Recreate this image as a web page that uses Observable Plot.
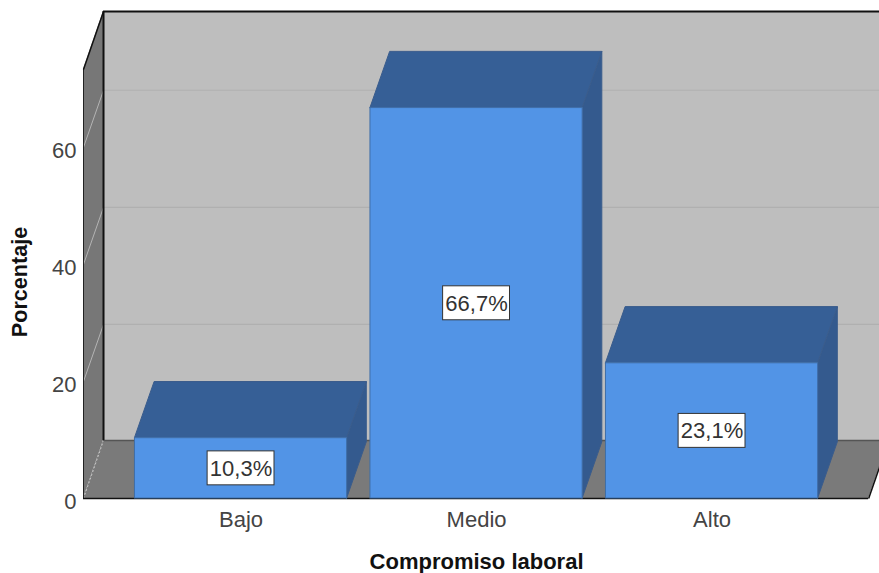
<!DOCTYPE html>
<html>
<head>
<meta charset="utf-8">
<script src="https://cdn.jsdelivr.net/npm/d3@7"></script>
<script src="https://cdn.jsdelivr.net/npm/@observablehq/plot@0.6"></script>
<style>
html,body{margin:0;padding:0;background:#fff;overflow:hidden}
svg{display:block}
</style>
</head>
<body>
<div id="chart"></div>
<script>
const categories = ["Bajo", "Medio", "Alto"];
const values = [10.3, 66.7, 23.1];
const valueLabels = ["10,3%", "66,7%", "23,1%"];
const yTicks = [0, 20, 40, 60];
const xTitle = "Compromiso laboral";
const yTitle = "Porcentaje";

// 3D box projection, in data units
const wallDepthX = 0.085, barDepthX = 0.0835, wallDepthY = 9.9, barDepthY = 9.6, gridDepthY = 9.75, halfBar = 0.4505;
const wallTop = 73.3, floorL = -0.669, floorR = 2.665, xMax = 2.711;
const boxW = 0.142, boxH = 2.9;

const quad = (id, a1, a2, b1, b2) => [
  {id, x1: a1[0], y1: a1[1], x2: a2[0], y2: a2[1]},
  {id, x1: b1[0], y1: b1[1], x2: b2[0], y2: b2[1]}
];
const bars = categories.map((c, i) => ({i, c, v: values[i], label: valueLabels[i], l: i - halfBar, r: i + halfBar}));
const topFaces = bars.flatMap(b => quad("t" + b.i, [b.l, b.v], [b.r, b.v], [b.l + barDepthX, b.v + barDepthY], [b.r + barDepthX, b.v + barDepthY]));
const sideFaces = bars.flatMap(b => quad("s" + b.i, [b.r, 0], [b.r, b.v], [b.r + barDepthX, barDepthY], [b.r + barDepthX, b.v + barDepthY]));
const leftWall = quad("left", [floorL, 0], [floorL, wallTop], [floorL + wallDepthX, wallDepthY], [floorL + wallDepthX, wallTop + wallDepthY]);
const floor = quad("floor", [floorL, 0], [floorR, 0], [floorL + wallDepthX, wallDepthY], [floorR + wallDepthX, wallDepthY]);
const gridTicks = yTicks.filter(t => t > 0);
const edge = "#3a5c8c";

const plot = Plot.plot({
  width: 879, height: 573,
  marginLeft: 83, marginRight: 0, marginTop: 11, marginBottom: 75,
  style: {fontFamily: "'Liberation Sans', Arial, sans-serif", background: "#fff"},
  x: {domain: [floorL, xMax], axis: null},
  y: {domain: [0, wallTop + wallDepthY], axis: null},
  marks: [
    // back wall
    Plot.rect([0], {x1: floorL + wallDepthX, x2: floorR + wallDepthX, y1: wallDepthY, y2: wallTop + wallDepthY, fill: "#bebebe"}),
    Plot.ruleY(gridTicks, {y: d => d + gridDepthY, x1: floorL + wallDepthX, x2: floorR + wallDepthX, stroke: "#b0b0b0", strokeWidth: 1.2}),
    // left wall and floor
    Plot.area(leftWall, {x1: "x1", y1: "y1", x2: "x2", y2: "y2", z: "id", fill: "#777777"}),
    Plot.area(floor, {x1: "x1", y1: "y1", x2: "x2", y2: "y2", z: "id", fill: "#7a7a7a"}),
    Plot.link(gridTicks, {x1: floorL, y1: d => d, x2: floorL + wallDepthX, y2: d => d + gridDepthY, stroke: "#b4b4b4", strokeWidth: 1}),
    Plot.link([0], {x1: floorL, y1: 0, x2: floorL + wallDepthX, y2: wallDepthY, stroke: "#c8c8c8", strokeWidth: 1, strokeDasharray: "2,2"}),
    // frame edges
    Plot.ruleY([wallDepthY], {x1: floorL + wallDepthX, x2: floorR + wallDepthX, stroke: "#555", strokeWidth: 1.5}),
    Plot.ruleY([wallTop + wallDepthY], {x1: floorL + wallDepthX, x2: floorR + wallDepthX, stroke: "#111", strokeWidth: 2}),
    Plot.ruleX([floorL + wallDepthX], {y1: wallDepthY, y2: wallTop + wallDepthY, stroke: "#111", strokeWidth: 2}),
    Plot.ruleX([floorL], {y1: 0, y2: wallTop, stroke: "#222", strokeWidth: 1}),
    Plot.link([0], {x1: floorL, y1: wallTop, x2: floorL + wallDepthX, y2: wallTop + wallDepthY, stroke: "#111", strokeWidth: 1.5}),
    Plot.link([0], {x1: floorR, y1: 0, x2: floorR + wallDepthX, y2: wallDepthY, stroke: "#111", strokeWidth: 1.5}),
    Plot.ruleY([0], {x1: floorL, x2: floorR, stroke: "#111", strokeWidth: 1.5}),
    // bars
    Plot.area(sideFaces, {x1: "x1", y1: "y1", x2: "x2", y2: "y2", z: "id", fill: "#345a8e", stroke: edge, strokeWidth: 1}),
    Plot.area(topFaces, {x1: "x1", y1: "y1", x2: "x2", y2: "y2", z: "id", fill: "#365f96", stroke: edge, strokeWidth: 1}),
    Plot.rect(bars, {x1: "l", x2: "r", y1: 0, y2: "v", fill: "#5294e6", stroke: "#3f6ea8", strokeWidth: 1}),
    // value boxes
    Plot.rect(bars, {x1: d => d.i - boxW, x2: d => d.i + boxW, y1: d => d.v / 2 - boxH, y2: d => d.v / 2 + boxH, fill: "#fff", stroke: "#333", strokeWidth: 1}),
    Plot.text(bars, {x: "i", y: d => d.v / 2, text: "label", fontSize: 22, fill: "#333", dy: 0.5}),
    // axes
    Plot.axisY({ticks: yTicks, tickSize: 0, tickPadding: 7, label: null, fontSize: 22, color: "#444", dy: 3.5}),
    Plot.axisX({ticks: [0, 1, 2], tickFormat: i => categories[i], tickSize: 0, tickPadding: 13, label: null, fontSize: 22, color: "#444"}),
    Plot.text([xTitle], {x: 1, frameAnchor: "bottom", textAnchor: "middle", dy: 70, fontSize: 22, fontWeight: "bold", fill: "#111"}),
    Plot.text([yTitle], {y: wallTop / 2, frameAnchor: "left", textAnchor: "middle", dx: -63, dy: -2, rotate: -90, fontSize: 21.6, fontWeight: "bold", fill: "#111"})
  ]
});
document.getElementById("chart").append(plot);
</script>
</body>
</html>
